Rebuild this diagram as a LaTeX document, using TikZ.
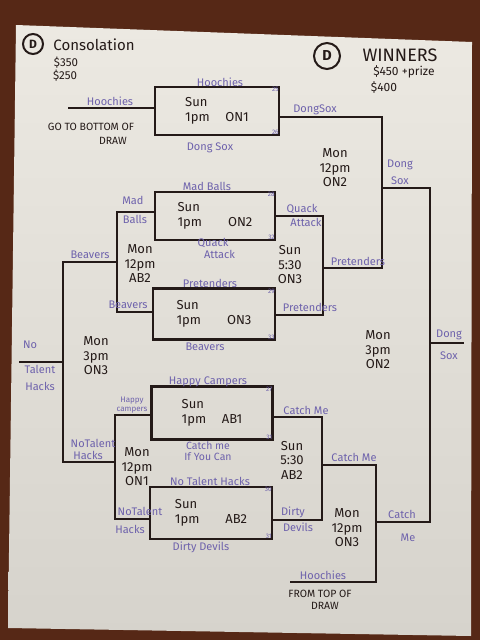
\documentclass[tikz,border=0pt]{standalone}
\usepackage{fontspec}
\setmainfont{Fira Sans}
\usepackage{tikz}
\usetikzlibrary{positioning}

\definecolor{wood}{RGB}{86,40,22}
\definecolor{paperhi}{RGB}{236,233,226}
\definecolor{paperlo}{RGB}{214,211,204}
\definecolor{pen}{RGB}{36,26,24}
\definecolor{ink}{RGB}{110,98,172}

\begin{document}
\begin{tikzpicture}[x=1pt, y=-1pt,
  game/.style={draw=pen, line width=2.8, minimum width=122pt, minimum height=50pt,
    inner sep=0pt, align=left, font=\fontsize{13}{15}\selectfont, text=pen},
  wire/.style={draw=pen, line width=2.8},
  lbl/.style={text=ink, inner sep=0pt, align=center, font=\fontsize{11}{12}\selectfont},
  when/.style={text=pen, inner sep=0pt, align=center, font=\fontsize{13}{14.5}\selectfont},
  note/.style={text=pen, inner sep=0pt, align=center, font=\fontsize{10.5}{13}\selectfont},
  num/.style={text=ink, inner sep=1.5pt, font=\fontsize{6.5}{7}\selectfont},
  ring/.style={circle, draw=pen, line width=2, inner sep=0pt, text=pen, font=\bfseries}]

\useasboundingbox (0,0) rectangle (480,640);
\fill[wood] (0,0) rectangle (480,640);
\shade[top color=paperhi, bottom color=paperlo]
  (16,25) -- (472,42) -- (471,636) -- (8,628) -- cycle;

\draw (33,44) node (dleft) [ring, minimum size=20pt, font=\bfseries\large]{D};
\draw (94,45) node (cons) [text=pen, inner sep=0pt, font=\fontsize{15}{16}\selectfont]{Consolation};
\draw (66,63) node [note, font=\fontsize{11.5}{12}\selectfont]{\$350};
\draw (65,76) node [note, font=\fontsize{11.5}{12}\selectfont]{\$250};

\draw (327,56) node (dright) [ring, minimum size=26pt, font=\bfseries\Large]{D};
\draw (400,55) node (wins) [text=pen, font=\fontsize{18}{19}\selectfont]{WINNERS};
\draw (404,72) node [note, font=\fontsize{12}{13}\selectfont]{\$450 +prize};
\draw (384,87) node [note, font=\fontsize{12}{13}\selectfont]{\$400};

\draw (217,111) node (b1) [game, minimum width=124pt, minimum height=48pt]{Sun\\1pm\hspace{1.2em}ON1};
\draw (215,216) node (b2) [game, minimum width=120pt, minimum height=48pt]{Sun\\1pm\hspace{2em}ON2};
\draw (214,314) node (b3) [game, minimum height=51pt]{Sun\\1pm\hspace{2em}ON3};
\draw (212,413) node (b4) [game, minimum width=121pt, minimum height=53pt]{Sun\\1pm\hspace{1.2em}AB1};
\draw (211,513) node (b5) [game, minimum height=52pt]{Sun\\1pm\hspace{2em}AB2};

\draw (b1.north east) node [num, anchor=north east]{25};
\draw (b1.south east) node [num, anchor=south east]{26};
\draw (b2.north east) node [num, anchor=north east]{28};
\draw (b2.south east) node [num, anchor=south east]{32};
\draw (b3.north east) node [num, anchor=north east]{29};
\draw (b3.south east) node [num, anchor=south east]{33};
\draw (b4.north east) node [num, anchor=north east]{27};
\draw (b4.south east) node [num, anchor=south east]{31};
\draw (b5.north east) node [num, anchor=north east]{30};
\draw (b5.south east) node [num, anchor=south east]{31};

\coordinate (hin) at (68,108);
\coordinate (j1) at (382,117);
\coordinate (j2) at (382,268);
\coordinate (j3) at (323,216);
\coordinate (j4) at (323,315);
\coordinate (j5) at (382,188);
\coordinate (j6) at (430,188);
\coordinate (j7) at (430,522);
\coordinate (fin) at (464,343);
\coordinate (k1) at (117,212);
\coordinate (k2) at (117,312);
\coordinate (k3) at (63,262);
\coordinate (k4) at (63,462);
\coordinate (k5) at (115,415);
\coordinate (k6) at (115,519);
\coordinate (nth) at (19,362);
\coordinate (m1) at (322,417);
\coordinate (m2) at (322,520);
\coordinate (m3) at (376,465);
\coordinate (m4) at (376,582);
\coordinate (hfrom) at (290,582);

\draw [wire] (hin) -- (hin -| b1.west);
\draw [wire] (b1.east |- j1) -- (j1) -- (j2) -- (j2 -| j3);
\draw [wire] (b2.east |- j3) -- (j3) -- (j4) -- (j4 -| b3.east);
\draw [wire] (j5) -- (j6) -- (j7) -- (j7 -| m3);
\draw [wire] (j6 |- fin) -- (fin);
\draw [wire] (b2.west |- k1) -- (k1) -- (k2) -- (k2 -| b3.west);
\draw [wire] (k1 |- k3) -- (k3) -- (k4) -- (k4 -| k5);
\draw [wire] (b4.west |- k5) -- (k5) -- (k6) -- (k6 -| b5.west);
\draw [wire] (nth) -- (nth -| k3);
\draw [wire] (b4.east |- m1) -- (m1) -- (m2) -- (m2 -| b5.east);
\draw [wire] (m1 |- m3) -- (m3) -- (m4) -- (hfrom);

\draw (110,101) node [lbl]{Hoochies};
\draw (91,127) node [note]{GO TO BOTTOM OF};
\draw (113,141) node [note]{DRAW};
\draw (220,82) node [lbl]{Hoochies};
\draw (210,148) node [lbl]{Dong Sox};
\draw (315,110) node [lbl]{DongSox};

\draw (335,168) node [when]{Mon\\12pm\\ON2};
\draw (400,172) node [lbl, font=\fontsize{11}{17}\selectfont]{Dong\\Sox};

\draw (207,186) node [lbl]{Mad Balls};
\draw (133,200) node [lbl]{Mad};
\draw (135,219) node [lbl]{Balls};
\draw (213,248) node [lbl]{Quack\\\hspace{1.2em}Attack};
\draw (302,209) node [lbl]{Quack};
\draw (306,222) node [lbl]{Attack};

\draw (140,264) node [when]{Mon\\12pm\\AB2};
\draw (290,265) node [when]{Sun\\5:30\\ON3};
\draw (90,255) node [lbl]{Beavers};
\draw (358,261) node [lbl]{Pretenders};

\draw (210,283) node [lbl]{Pretenders};
\draw (128,305) node [lbl]{Beavers};
\draw (310,307) node [lbl]{Pretenders};
\draw (205,347) node [lbl]{Beavers};

\draw (30,345) node [lbl]{No};
\draw (40,378) node [lbl, font=\fontsize{11}{17}\selectfont]{Talent\\Hacks};
\draw (96,356) node [when]{Mon\\3pm\\ON3};
\draw (378,350) node [when]{Mon\\3pm\\ON2};
\draw (449,345) node [lbl, font=\fontsize{11}{22}\selectfont]{Dong\\Sox};

\draw (208,382) node [lbl]{Happy Campers};
\draw (132,405) node [lbl, font=\fontsize{8}{8.5}\selectfont]{Happy\\campers};
\draw (306,410) node [lbl]{Catch Me};
\draw (208,451) node [lbl, font=\fontsize{10.5}{10.5}\selectfont]{Catch me\\If You Can};
\draw (93,443) node [lbl]{NoTalent};
\draw (88,455) node [lbl]{Hacks};

\draw (137,467) node [when]{Mon\\12pm\\ON1};
\draw (292,460) node [when]{Sun\\5:30\\AB2};
\draw (354,457) node [lbl]{Catch Me};

\draw (210,481) node [lbl]{No Talent Hacks};
\draw (140,511) node [lbl]{NoTalent};
\draw (130,529) node [lbl]{Hacks};
\draw (293,512) node [lbl]{Dirty};
\draw (298,527) node [lbl]{Devils};
\draw (201,547) node [lbl]{Dirty Devils};

\draw (347,528) node [when]{Mon\\12pm\\ON3};
\draw (402,514) node [lbl]{Catch};
\draw (408,538) node [lbl]{Me};

\draw (323,575) node [lbl]{Hoochies};
\draw (320,594) node [note]{FROM TOP OF};
\draw (325,606) node [note]{DRAW};

\end{tikzpicture}
\end{document}
